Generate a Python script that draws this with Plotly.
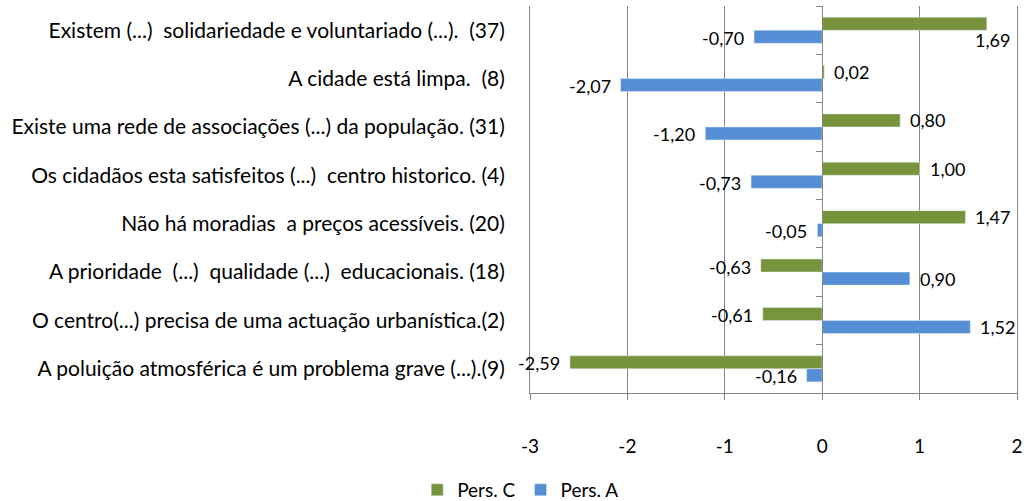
import plotly.graph_objects as go

categories = [
    "Existem (...)  solidariedade e voluntariado (...).  (37)",
    "A cidade está limpa.  (8)",
    "Existe uma rede de associações (...) da população. (31)",
    "Os cidadãos esta satisfeitos (...)  centro historico. (4)",
    "Não há moradias  a preços acessíveis. (20)",
    "A prioridade  (...)  qualidade (...)  educacionais. (18)",
    "O centro(...) precisa de uma actuação urbanística.(2)",
    "A poluição atmosférica é um problema grave (...).(9)",
]
pers_c = [1.69, 0.02, 0.80, 1.00, 1.47, -0.63, -0.61, -2.59]
pers_a = [-0.70, -2.07, -1.20, -0.73, -0.05, 0.90, 1.52, -0.16]
x_ticks = [-3, -2, -1, 0, 1, 2]

GREEN = "#77933C"
BLUE = "#558ED5"
FONT = "Lato"
GRID = "#868686"

fig = go.Figure()
fig.add_trace(go.Bar(name="Pers. C", y=categories, x=pers_c, orientation="h",
                     marker=dict(color=GREEN), hoverinfo="skip"))
fig.add_trace(go.Bar(name="Pers. A", y=categories, x=pers_a, orientation="h",
                     marker=dict(color=BLUE), hoverinfo="skip"))

# invisible trace to carry the category tick marks on the zero line
fig.add_trace(go.Scatter(x=[0] * len(categories), y=categories, yaxis="y2",
                         mode="markers", marker=dict(opacity=0),
                         showlegend=False, hoverinfo="skip"))


def fmt(v):
    return f"{v:.2f}".replace(".", ",")


# data labels
lab_font = dict(family=FONT, size=18, color="#000")
for vals, shift in ((pers_c, -6.5), (pers_a, 6.5)):
    for cat, v in zip(categories, vals):
        if v > 1.6:
            # no room on the right: put it under the bar
            fig.add_annotation(x=v, y=cat, text=fmt(v), showarrow=False,
                               xanchor="center", xshift=6, yshift=-(shift + 16),
                               font=lab_font)
        elif v >= 0:
            fig.add_annotation(x=v, y=cat, text=fmt(v), showarrow=False,
                               xanchor="left", xshift=8, yshift=-shift,
                               font=lab_font)
        else:
            fig.add_annotation(x=v, y=cat, text=fmt(v), showarrow=False,
                               xanchor="right", xshift=-8, yshift=-shift - 1,
                               font=lab_font)

cat_range = [len(categories) - 0.5, -0.5]

fig.update_layout(
    width=1029, height=501,
    margin=dict(l=530, r=10, t=6, b=108),
    paper_bgcolor="white", plot_bgcolor="white",
    barmode="group", bargap=0.46, bargroupgap=0,
    font=dict(family=FONT, size=17, color="#000"),
    xaxis=dict(range=[-3, 2], tickvals=x_ticks, ticktext=[str(t) for t in x_ticks],
               showgrid=True, gridcolor=GRID, gridwidth=1,
               zeroline=True, zerolinecolor=GRID, zerolinewidth=1,
               showline=True, linecolor=GRID, linewidth=1,
               ticks="outside", ticklen=6, tickcolor=GRID,
               ticklabelstandoff=30, tickfont=dict(size=19), fixedrange=True),
    yaxis=dict(categoryorder="array", categoryarray=categories, range=cat_range,
               showgrid=False, showline=True, mirror=True, linecolor=GRID,
               linewidth=1, ticks="",
               ticklabelstandoff=20, tickfont=dict(size=21), fixedrange=True),
    yaxis2=dict(overlaying="y", anchor="free", position=0.6,
                categoryorder="array", categoryarray=categories, range=cat_range,
                showticklabels=False, showgrid=False, showline=True,
                linecolor=GRID, linewidth=1, ticks="outside", tickson="boundaries",
                ticklen=6, tickcolor=GRID, side="left", fixedrange=True),
    legend=dict(orientation="h", xref="container", yref="container",
                x=0.506, xanchor="center", y=0.022, yanchor="middle",
                font=dict(size=19), traceorder="normal", itemwidth=30),
    showlegend=True,
)

# drop the default page margin so the figure sits at the window's corner
fig.write_html("out.html", config={"displayModeBar": False},
               post_script="document.body.style.margin='0';")
